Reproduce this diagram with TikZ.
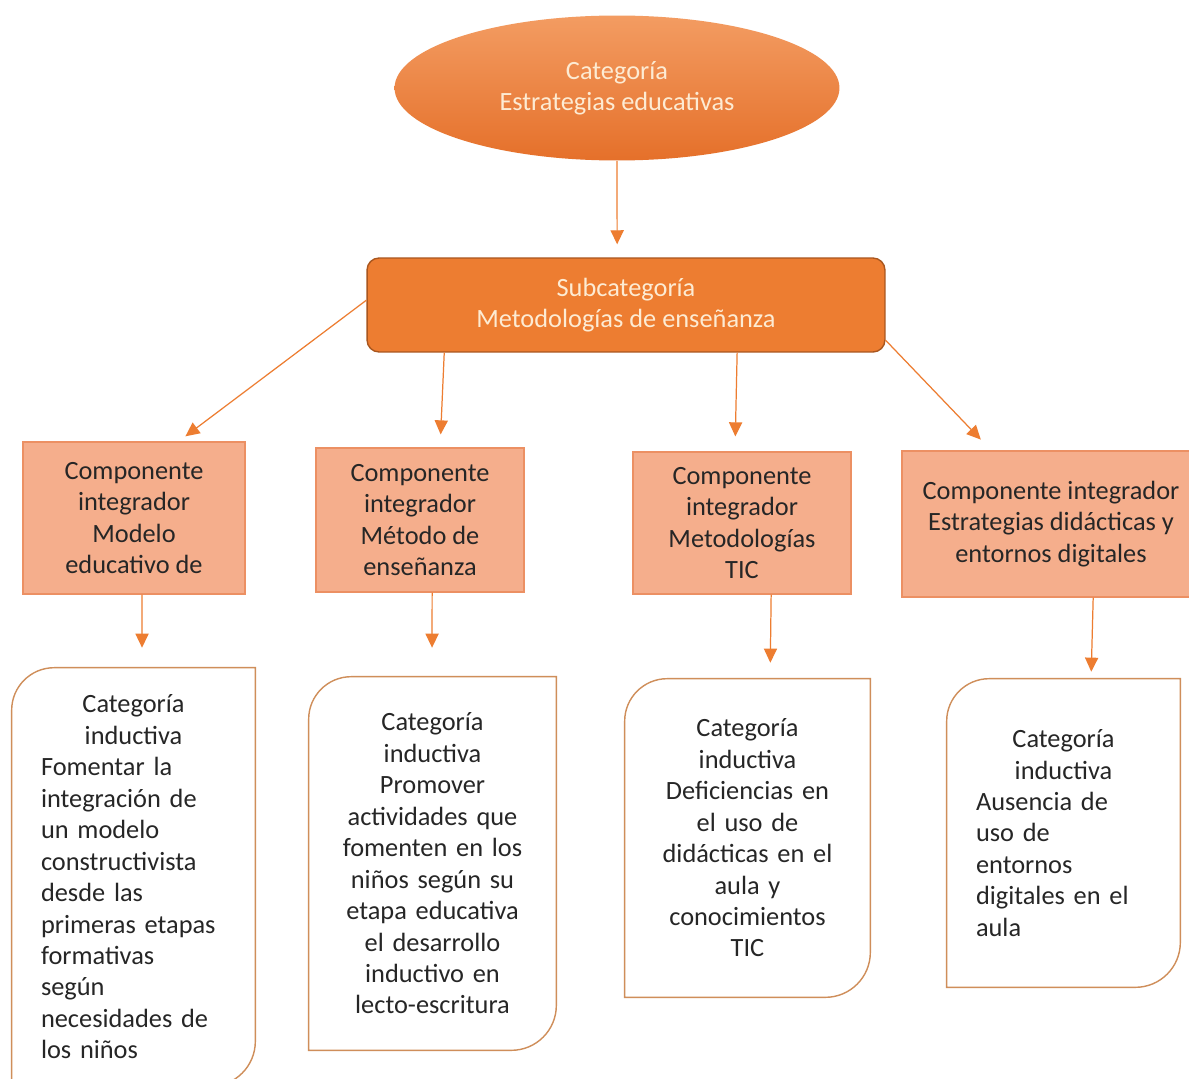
\documentclass[tikz,border=0pt]{standalone}
\usepackage{fontspec}
\setmainfont{Carlito}
\usetikzlibrary{shapes.geometric,arrows.meta,calc}
\definecolor{naranja}{HTML}{ED7D31}
\definecolor{naranjaTop}{HTML}{F39C62}
\definecolor{naranjaBot}{HTML}{E5702A}
\definecolor{borde}{HTML}{A9561E}
\definecolor{salmon}{HTML}{F5AE8C}
\definecolor{salmonBorde}{HTML}{EC9063}
\definecolor{crema}{HTML}{FDEBD3}
\definecolor{tinta}{HTML}{262626}
\definecolor{marco}{HTML}{CF8E5A}

\begin{document}
\begin{tikzpicture}[x=0.02cm,y=-0.02cm,
  txt/.style={font=\fontsize{15}{17.9}\selectfont},
  catnode/.style={ellipse, txt, text=crema, top color=naranjaTop, bottom color=naranjaBot, align=center},
  subnode/.style={rectangle, rounded corners=0.24cm, draw=borde, line width=0.8pt, fill=naranja, text=crema, txt, align=center},
  compnode/.style={rectangle, draw=salmonBorde, line width=0.7pt, fill=salmon, text=tinta, txt, align=center},
  indnode/.style={rectangle, txt, text=tinta},
  link/.style={draw=naranja, line width=0.7pt, -{Triangle[length=8pt,width=7.5pt]}},
  inbox/.style={draw=marco, line width=0.8pt}
]
\useasboundingbox (0,0) rectangle (1189,1078);
\fill[white] (0,0) rectangle (1189,1078);
\clip (0,0) rectangle (1189,1078);

% top levels
\node[catnode, minimum width=8.9cm, minimum height=2.9cm] (cat) at (617,88) {Categoría\\Estrategias educativas};
\node[subnode, minimum width=10.36cm, minimum height=1.88cm] (sub) at (626,305) {Subcategoría\\Metodologías de enseñanza};

% componentes
\node[compnode, minimum width=4.44cm, minimum height=3.04cm] (c1) at (134,518) {Componente\\integrador\\Modelo\\educativo de};
\node[compnode, minimum width=4.16cm, minimum height=2.88cm] (c2) at (420,520) {Componente\\integrador\\Método de\\enseñanza};
\node[compnode, minimum width=4.36cm, minimum height=2.84cm] (c3) at (742,523) {Componente\\integrador\\Metodologías\\TIC};
\node[compnode, minimum width=5.96cm, minimum height=2.92cm] (c4) at (1051,524) {Componente integrador\\Estrategias didácticas y\\entornos digitales};

% categorias inductivas
\node[indnode, minimum width=4.86cm, minimum height=8.36cm, text width=3.7cm, align=left] (b1) at (133.5,877)
  {\makebox[3.7cm]{Categoría}\\\makebox[3.7cm]{inductiva}\\Fomentar la\\integración de\\un modelo\\constructivista\\desde las\\primeras etapas\\formativas\\según\\necesidades de\\los niños};
\node[indnode, minimum width=4.94cm, minimum height=7.46cm, text width=4.2cm, align=center] (b2) at (432.5,863.5)
  {Categoría\\inductiva\\Promover\\actividades que\\fomenten en los\\niños según su\\etapa educativa\\el desarrollo\\inductivo en\\lecto-escritura};
\node[indnode, minimum width=4.9cm, minimum height=6.36cm, text width=4.2cm, align=center] (b3) at (747.5,838)
  {Categoría\\inductiva\\Deficiencias en\\el uso de\\didácticas en el\\aula y\\conocimientos\\TIC};
\node[indnode, minimum width=4.66cm, minimum height=6.16cm, text width=3.5cm, align=left] (b4) at (1063.5,833)
  {\makebox[3.5cm]{Categoría}\\\makebox[3.5cm]{inductiva}\\Ausencia de\\uso de\\entornos\\digitales en el\\aula};

% marcos con dos esquinas redondeadas
\foreach \b in {b1,b2,b3,b4}
  \draw[inbox] ([xshift=0.85cm]\b.north west) -- (\b.north east) -- ([yshift=0.9cm]\b.south east)
    arc[start angle=0,end angle=-90,radius=0.9cm] -- (\b.south west) -- ([yshift=-0.85cm]\b.north west)
    arc[start angle=180,end angle=90,radius=0.85cm] -- cycle;

% flechas
\draw[link, shorten >=0.26cm] (cat.south) -- ($(sub.north west)!0.483!(sub.north east)$);
\draw[link, shorten >=0.17cm] ($(sub.north west)!0.45!(sub.south west)$) -- ($(c1.north west)!0.70!(c1.north east)$);
\draw[link, shorten >=0.26cm] ($(sub.south west)!0.15!(sub.south east)$) -- ($(c2.north west)!0.596!(c2.north east)$);
\draw[link, shorten >=0.3cm] ($(sub.south west)!0.714!(sub.south east)$) -- ($(c3.north west)!0.468!(c3.north east)$);
\draw[link, shorten >=0.3cm] ($(sub.north east)!0.87!(sub.south east)$) -- ($(c4.north west)!0.30!(c4.north east)$);

\draw[link, shorten >=0.4cm] ($(c1.south west)!0.536!(c1.south east)$) -- ($(b1.north west)!0.535!(b1.north east)$);
\draw[link, shorten >=0.58cm] ($(c2.south west)!0.558!(c2.south east)$) -- ($(b2.north west)!0.498!(b2.north east)$);
\draw[link, shorten >=0.32cm] ($(c3.south west)!0.633!(c3.south east)$) -- ($(b3.north west)!0.592!(b3.north east)$);
\draw[link, shorten >=0.14cm] ($(c4.south west)!0.641!(c4.south east)$) -- ($(b4.north west)!0.618!(b4.north east)$);
\end{tikzpicture}
\end{document}
